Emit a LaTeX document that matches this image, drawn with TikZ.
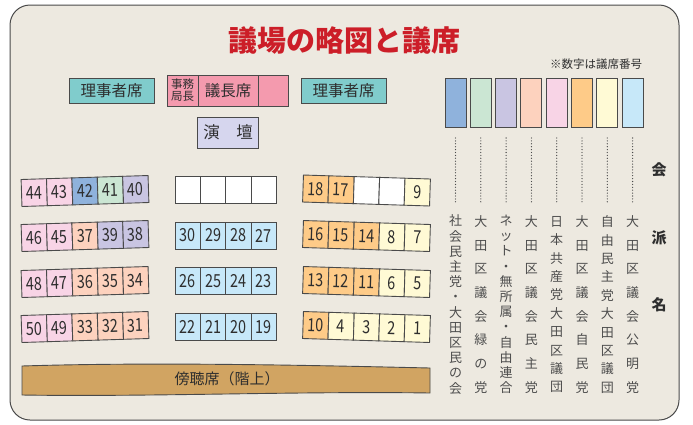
\documentclass[tikz,border=0pt]{standalone}
\usepackage{fontspec}
\setmainfont{Noto Sans CJK JP}
\usetikzlibrary{positioning}

\definecolor{paper}{HTML}{EDE9E0}
\definecolor{edge}{HTML}{4A4A4A}
\definecolor{ink}{HTML}{2E2E2E}
\definecolor{titlered}{HTML}{CC1E28}
\definecolor{staff}{HTML}{80CCCC}
\definecolor{chairpink}{HTML}{F49AAE}
\definecolor{podium}{HTML}{D6D6EE}
\definecolor{gallery}{HTML}{D1A462}
\definecolor{sdp}{HTML}{8FB2DC}
\definecolor{grn}{HTML}{CBE6D3}
\definecolor{net}{HTML}{C9C5E2}
\definecolor{dpj}{HTML}{FDD2BE}
\definecolor{jcp}{HTML}{F8D4E6}
\definecolor{ldp}{HTML}{FECB88}
\definecolor{jm}{HTML}{FFFAD5}
\definecolor{kmt}{HTML}{C7E8F9}

\begin{document}
\begin{tikzpicture}[
    x=1pt, y=-1pt,
    every node/.style={inner sep=0pt, outer sep=0pt, text=ink},
    box/.style={draw=edge, line width=0.9pt, minimum height=25pt, font=\fontsize{15.5}{15.5}\selectfont},
    seat/.style={draw=edge, line width=0.9pt, minimum width=25.4pt, minimum height=27pt, font=\fontsize{18}{18}\selectfont},
    legend/.style={draw=edge, line width=0.9pt, minimum width=21pt, minimum height=49pt},
    party/.style={align=center, font=\fontsize{13}{#1}\selectfont, text=ink!85},
    dotline/.style={edge, line width=1.3pt, dash pattern=on 0pt off 2.9pt, line cap=round, shorten <=11pt, shorten >=13pt}
]
\useasboundingbox (0,0) rectangle (693,424);
\draw[fill=paper, draw=edge, line width=1pt, rounded corners=20pt] (10,5) rectangle (679,420);

\node[text=titlered, font=\fontsize{29}{29}\selectfont\bfseries] (title) at (344,41) {議場の略図と議席};
\node[font=\fontsize{11.5}{11.5}\selectfont] (note) at (596,64) {※数字は議席番号};

% Front: staff, chair and podium
\node[box, fill=staff, minimum width=85pt] (staffL) at (111.5,90.5) {理事者席};
\node[box, fill=chairpink, minimum width=31pt, minimum height=31pt, align=center, font=\fontsize{11.5}{12}\selectfont] (clerk) at (182.5,90.5) {事務\\局長};
\node[box, fill=chairpink, minimum width=60pt, minimum height=31pt, right=0pt of clerk] (chair) {議長席};
\node[box, fill=chairpink, minimum width=30pt, minimum height=31pt, right=0pt of chair] (vice) {};
\node[box, fill=staff, minimum width=85pt, right=13pt of vice] (staffR) {理事者席};
\node[box, fill=podium, minimum width=61pt, minimum height=31pt, below=11pt of chair, font=\fontsize{16.5}{16.5}\selectfont] (podium) {演　壇};

% Left block
\foreach \r/\y/\row in {1/191/{44/jcp,43/jcp,42/sdp,41/grn,40/net},
    2/236/{46/jcp,45/jcp,37/dpj,39/net,38/net},
    3/282/{48/jcp,47/jcp,36/dpj,35/dpj,34/dpj},
    4/327/{50/jcp,49/jcp,33/dpj,32/dpj,31/dpj}}{
  \begin{scope}[rotate around={1.8:(85,\y)}, transform shape]
    \foreach \t/\c [count=\i] in \row
      \node[seat, fill=\c] (L\r-\i) at ({21.5+(\i-0.5)*25.4},\y) {\scalebox{.8}[1]{\t}};
  \end{scope}
}

% Middle block
\foreach \r/\y/\row in {1/190/{{}/white,{}/white,{}/white,{}/white},
    2/235.5/{30/kmt,29/kmt,28/kmt,27/kmt},
    3/281/{26/kmt,25/kmt,24/kmt,23/kmt},
    4/327/{22/kmt,21/kmt,20/kmt,19/kmt}}{
  \foreach \t/\c [count=\i] in \row
    \node[seat, fill=\c] (M\r-\i) at ({175+(\i-0.5)*25.4},\y) {\scalebox{.8}[1]{\t}};
}

% Right block
\foreach \r/\y/\row in {1/190.5/{18/ldp,17/ldp,{}/white,{}/white,9/jm},
    2/236/{16/ldp,15/ldp,14/ldp,8/jm,7/jm},
    3/282/{13/ldp,12/ldp,11/ldp,6/jm,5/jm},
    4/327/{10/ldp,4/jm,3/jm,2/jm,1/jm}}{
  \begin{scope}[rotate around={-1.8:(366.5,\y)}, transform shape]
    \foreach \t/\c [count=\i] in \row
      \node[seat, fill=\c] (R\r-\i) at ({303+(\i-0.5)*25.4},\y) {\scalebox{.8}[1]{\t}};
  \end{scope}
}

% Gallery
\draw[fill=gallery, draw=edge, line width=0.9pt] (22,366) .. controls (150,362) and (300,365) .. (430,368)
    -- (430,393) .. controls (300,391) and (150,397) .. (22,395) -- cycle;
\node[font=\fontsize{15}{15}\selectfont] (gallery) at (227,379) {傍聴席（階上）};

% Legend
\foreach \c [count=\i] in {sdp,grn,net,dpj,jcp,ldp,jm,kmt}
  \node[legend, fill=\c] (k\i) at ({455.5+(\i-1)*25.3},102.5) {};

\foreach \p/\t [count=\i] in {15.2/{社\\会\\民\\主\\党\\・\\大\\田\\区\\民\\の\\会},
    23.7/{大\\田\\区\\議\\会\\緑\\の\\党},
    15.2/{ネ\\ッ\\ト\\・\\無\\所\\属\\・\\自\\由\\連\\合},
    23.7/{大\\田\\区\\議\\会\\民\\主\\党},
    18.4/{日\\本\\共\\産\\党\\大\\田\\区\\議\\団},
    23.7/{大\\田\\区\\議\\会\\自\\民\\党},
    18.4/{自\\由\\民\\主\\党\\大\\田\\区\\議\\団},
    23.7/{大\\田\\区\\議\\会\\公\\明\\党}}{
  \node[party=\p] (p\i) at ({455.5+(\i-1)*25.3},304.5) {\t};
  \draw[dotline] (k\i) -- (p\i);
}

\node[align=center, font=\fontsize{15}{67.5}\selectfont\bfseries] (kaiha) at (659,237.5) {会\\派\\名};
\end{tikzpicture}
\end{document}
